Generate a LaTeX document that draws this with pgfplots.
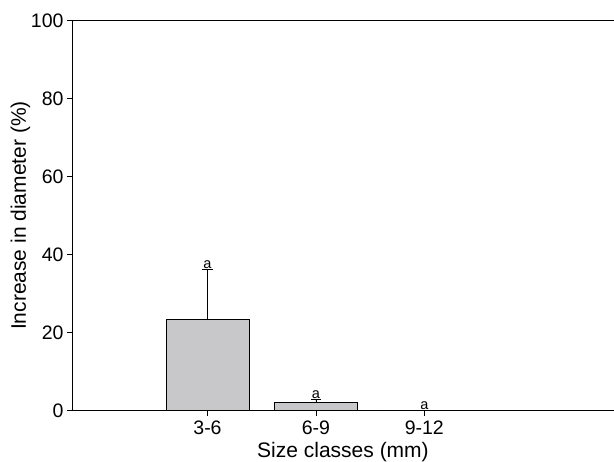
\documentclass[border=0pt]{standalone}
\usepackage{fontspec}
\setmainfont{Liberation Sans}
\newfontfamily\labfont{Liberation Sans}
\usepackage{pgfplots}
\pgfplotsset{compat=1.18}
\definecolor{barfill}{RGB}{200,200,202}
\begin{document}
\begin{tikzpicture}
\begin{axis}[
  scale only axis,
  width=542bp, height=390bp,
  xmin=-1.25, xmax=3.75,
  ymin=0, ymax=100,
  axis x line=box, axis y line=left,
  axis line style={-, line width=0.8bp, black},
  xtick={0,1,2}, xticklabels={3-6,6-9,9-12},
  ytick={0,20,40,60,80,100},
  xtick pos=bottom, ytick pos=left,
  tick align=outside,
  major tick length=5bp,
  tick style={line width=0.8bp, black},
  /pgf/number format/assume math mode=true,
  ticklabel style={font=\fontsize{19.5bp}{22bp}\selectfont},
  xticklabel style={yshift=-2bp},
  label style={font=\fontsize{21bp}{25bp}\selectfont},
  xlabel={Size classes (mm)},
  ylabel={Increase in diameter (\%)},
  xlabel style={yshift=-1bp},
  ylabel style={yshift=-6bp},
  clip=false,
]
\addplot[ybar, bar width=0.765, fill=barfill, draw=black, line width=0.7bp,
  error bars/.cd, y dir=plus, y explicit,
  error bar style={line width=0.8bp, black},
  error mark options={rotate=90, mark size=5bp, line width=0.8bp, black}]
  coordinates {(0,23.3) +- (0,13.0) (1,2.0) +- (0,0.9) (2,0) +- (0,0)};
\addplot[draw=none, mark=none, nodes near coords={\mbox{\labfont\fontsize{14.5bp}{16bp}\selectfont\pgfplotspointmeta}}, point meta=explicit symbolic,
  nodes near coords style={anchor=south, inner sep=0.5bp}]
  coordinates {(0,36.3) [a] (1,2.9) [a] (2,0.1) [a]};
\coordinate (bl) at (rel axis cs:0,0);
\coordinate (tr) at (rel axis cs:1,1);
\end{axis}
\pgfresetboundingbox
\path ([shift={(-72bp,-51.5bp)}]bl) rectangle ([shift={(0bp,20.5bp)}]tr);
\end{tikzpicture}
\end{document}
